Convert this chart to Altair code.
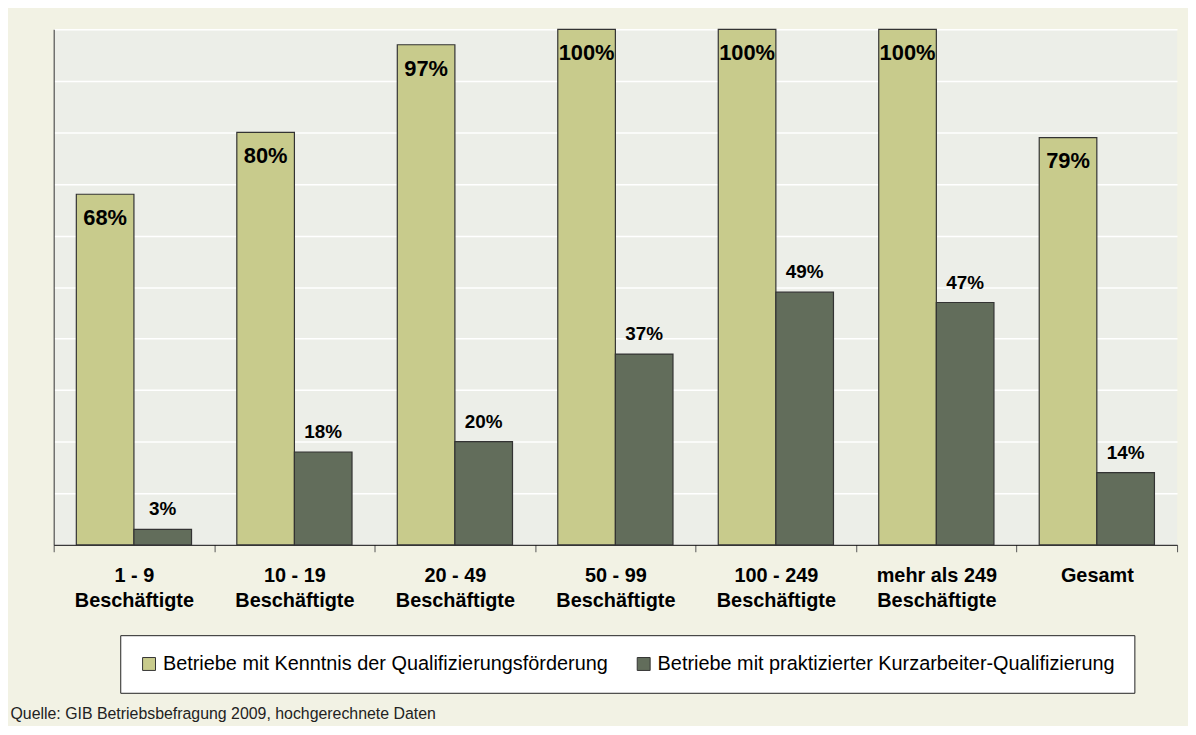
import altair as alt
import pandas as pd

categories = [
    "1 - 9\nBeschäftigte",
    "10 - 19\nBeschäftigte",
    "20 - 49\nBeschäftigte",
    "50 - 99\nBeschäftigte",
    "100 - 249\nBeschäftigte",
    "mehr als 249\nBeschäftigte",
    "Gesamt",
]
series_names = [
    "Betriebe mit Kenntnis der Qualifizierungsförderung",
    "Betriebe mit praktizierter Kurzarbeiter-Qualifizierung",
]
kenntnis = [68, 80, 97, 100, 100, 100, 79]
praktiziert = [3, 18, 20, 37, 49, 47, 14]
source_text = "Quelle: GIB Betriebsbefragung 2009, hochgerechnete Daten"

colors = ["#C8CB8C", "#626D5B"]
FONT = "Liberation Sans"

rows = []
for i, c in enumerate(categories):
    rows.append({"cat": c, "series": series_names[0], "value": kenntnis[i]})
    rows.append({"cat": c, "series": series_names[1], "value": praktiziert[i]})
df = pd.DataFrame(rows)

x_enc = alt.X(
    "cat:N",
    sort=categories,
    scale=alt.Scale(paddingInner=0, paddingOuter=0),
    axis=alt.Axis(
        title=None,
        labelAngle=0,
        labelExpr="split(datum.label, '\\n')",
        labelFont=FONT,
        labelFontSize=20,
        labelFontWeight="bold",
        labelColor="#000000",
        labelLineHeight=25,
        labelBaseline="top",
        labelPadding=14,
        labelLimit=300,
        tickBand="extent",
        tickSize=7,
        tickColor="#555555",
        domainColor="#000000",
        grid=False,
    ),
)
xoff = alt.XOffset(
    "series:N",
    sort=series_names,
    scale=alt.Scale(paddingInner=0, paddingOuter=0.393),
)
y_enc = alt.Y(
    "value:Q",
    scale=alt.Scale(domain=[0, 100], nice=False),
    axis=alt.Axis(
        title=None,
        labels=False,
        ticks=False,
        values=[0, 10, 20, 30, 40, 50, 60, 70, 80, 90, 100],
        grid=True,
        gridColor="#FFFFFF",
        gridWidth=1.5,
        domainColor="#333333",
    ),
)

base = alt.Chart(df).transform_calculate(label="datum.value + '%'")

bars = base.mark_bar(stroke="#333333", strokeWidth=1.2).encode(
    x=x_enc,
    xOffset=xoff,
    y=y_enc,
    color=alt.Color(
        "series:N",
        sort=series_names,
        scale=alt.Scale(domain=series_names, range=colors),
        legend=alt.Legend(
            title=None,
            orient="none",
            legendX=67,
            legendY=610,
            direction="horizontal",
            fillColor="#FFFFFF",
            strokeColor="#222222",
            padding=19,
            columnPadding=25,
            symbolType="square",
            symbolSize=169,
            symbolStrokeColor="#333333",
            symbolStrokeWidth=1,
            labelFont=FONT,
            labelFontSize=20,
            labelColor="#000000",
            labelLimit=800,
            labelOffset=4,
        ),
    ),
)

text_light = base.transform_filter(
    alt.datum.series == series_names[0]
).mark_text(
    font=FONT, fontSize=22, fontWeight="bold", baseline="alphabetic", dy=31, color="#000000"
).encode(
    x=alt.X("cat:N", sort=categories),
    xOffset=xoff,
    y="value:Q",
    text="label:N",
)

text_dark = base.transform_filter(
    alt.datum.series == series_names[1]
).mark_text(
    font=FONT, fontSize=19, fontWeight="bold", baseline="alphabetic", dy=-14, color="#000000"
).encode(
    x=alt.X("cat:N", sort=categories),
    xOffset=xoff,
    y="value:Q",
    text="label:N",
)

chart = (
    alt.layer(bars, text_light, text_dark)
    .properties(
        width=1131,
        height=519,
        autosize=alt.AutoSizeParams(type="none"),
        padding={"left": 46, "top": 19, "right": 11, "bottom": 180},
        background="#F2F2E4",
        title=alt.TitleParams(
            text=source_text,
            orient="bottom",
            anchor="start",
            font=FONT,
            fontSize=16,
            fontWeight="normal",
            color="#222222",
            dx=-43,
            offset=13,
        ),
    )
    .configure_view(fill="#ECEEE8", stroke=None)
)

chart.save("out.html", embed_options={"renderer": "svg", "actions": False})
